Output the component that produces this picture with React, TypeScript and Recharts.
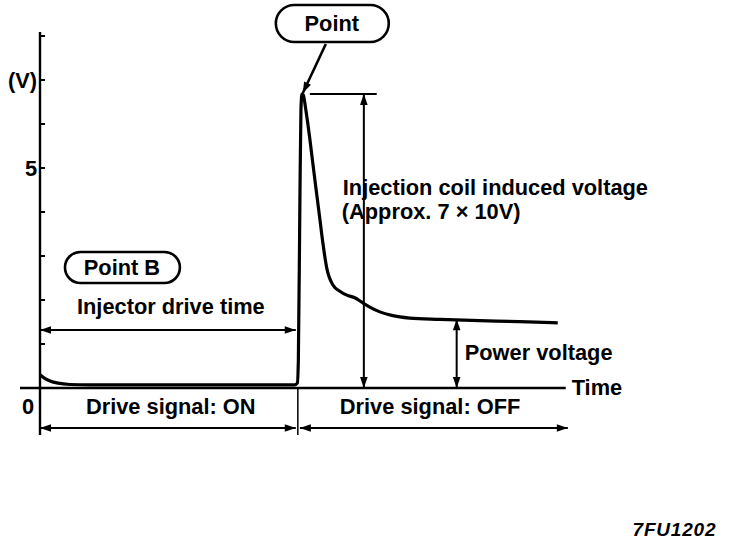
import React from 'react';
import { LineChart, Line, XAxis, YAxis, ReferenceLine, ReferenceDot, ReferenceArea } from 'recharts';

// Time (arbitrary units; drive signal switches OFF at t = 10)
const timeValues = [0, 0.155, 0.39, 0.7, 1.16, 1.94, 6.2, 9.88, 9.98, 10.02, 10.08, 10.12, 10.16, 10.21, 10.31, 10.47, 10.58, 10.7, 10.85, 10.97, 11.12, 11.36, 11.63, 11.9, 12.21, 12.48, 12.79, 13.18, 13.64, 14.34, 15.5, 17.05, 18.6, 20.08];
// Voltage (V)
const voltageValues = [0.3, 0.23, 0.16, 0.11, 0.08, 0.07, 0.07, 0.07, 0.11, 0.64, 4.27, 6.32, 6.68, 6.66, 6.32, 5.64, 5.11, 4.55, 3.86, 3.3, 2.73, 2.34, 2.2, 2.11, 2.05, 1.95, 1.84, 1.73, 1.65, 1.59, 1.56, 1.53, 1.51, 1.48];

const yTicks = [0, 1, 2, 3, 4, 5, 6, 7, 8];
const yTickLabels: Record<number, string> = { 5: '5', 7: '(V)' };

type Txt = { text: string; t: number; v: number; anchor: 'start' | 'middle' | 'end' };
const texts: Txt[] = [
  { text: 'Point', t: 11.318, v: 8.114, anchor: 'middle' },
  { text: 'Point B', t: 3.178, v: 2.568, anchor: 'middle' },
  { text: 'Injection coil induced voltage', t: 11.744, v: 4.386, anchor: 'start' },
  { text: '(Approx. 7 \u00d7 10V)', t: 11.705, v: 3.841, anchor: 'start' },
  { text: 'Injector drive time', t: 1.434, v: 1.682, anchor: 'start' },
  { text: 'Power voltage', t: 16.473, v: 0.636, anchor: 'start' },
  { text: 'Time', t: 20.62, v: -0.159, anchor: 'start' },
  { text: 'Drive signal: ON', t: 1.783, v: -0.591, anchor: 'start' },
  { text: 'Drive signal: OFF', t: 11.628, v: -0.591, anchor: 'start' },
  { text: '0', t: -0.698, v: -0.591, anchor: 'start' },
];

// Pill boxes [t1, t2, v1, v2]
const pills = [
  [9.147, 13.527, 8.705, 7.864],
  [0.969, 5.426, 3.091, 2.386],
];

type Seg = { p: [number, number, number, number]; arrows: 'none' | 'start' | 'end' | 'both'; w: number };
const segments: Seg[] = [
  { p: [-0.775, 0, 20.39, 0], arrows: 'none', w: 2.4 },         // time axis
  { p: [0, -1.068, 0, 8.09], arrows: 'none', w: 2.4 },          // voltage axis
  { p: [10.0, 0, 10.0, -1.068], arrows: 'none', w: 1.5 },       // ON/OFF boundary
  { p: [0, 1.318, 9.92, 1.318], arrows: 'both', w: 2.2 },       // injector drive time
  { p: [0, -0.909, 9.92, -0.909], arrows: 'both', w: 2.2 },     // drive ON
  { p: [10.08, -0.909, 20.47, -0.909], arrows: 'both', w: 2.2 },// drive OFF
  { p: [10.465, 6.682, 13.06, 6.682], arrows: 'none', w: 2 },   // peak level
  { p: [12.56, 6.682, 12.56, 0], arrows: 'both', w: 2 },        // induced voltage
  { p: [16.16, 1.56, 16.16, 0], arrows: 'both', w: 2 },         // power voltage
  { p: [11.085, 7.818, 10.194, 6.705], arrows: 'end', w: 2.6 }, // pointer to peak
];

const data = timeValues.map((t, i) => ({ t, v: voltageValues[i] }));
const FONT = '"Liberation Sans", Arial, sans-serif';
const FS = 21.8;

const head = (xa: number, ya: number, xb: number, yb: number) => {
  const dx = xb - xa, dy = yb - ya;
  const len = Math.hypot(dx, dy) || 1;
  const ux = dx / len, uy = dy / len;
  const L = 11, W = 3.8;
  const bx = xb - ux * L, by = yb - uy * L;
  return `${xb},${yb} ${bx - uy * W},${by + ux * W} ${bx + uy * W},${by - ux * W}`;
};

const makeShape = (arrows: Seg['arrows'], w: number) => (props: any) => {
  const { x1, y1, x2, y2 } = props;
  return (
    <g>
      <line x1={x1} y1={y1} x2={x2} y2={y2} stroke="#000" strokeWidth={w} />
      {(arrows === 'end' || arrows === 'both') && <polygon points={head(x1, y1, x2, y2)} fill="#000" />}
      {(arrows === 'start' || arrows === 'both') && <polygon points={head(x2, y2, x1, y1)} fill="#000" />}
    </g>
  );
};

const YTick = (props: any) => {
  const { x, y, payload } = props;
  const v = payload.value;
  if (v === 0) return <g />;
  const label = yTickLabels[v];
  return (
    <g>
      <line x1={x} y1={y} x2={x + 5} y2={y} stroke="#000" strokeWidth={2} />
      {label && (
        <text x={x - 3} y={y + 8} textAnchor="end" fontFamily={FONT} fontWeight="bold" fontSize={FS} fill="#000">
          {label}
        </text>
      )}
    </g>
  );
};

export default function App() {
  return (
    <div style={{ position: 'absolute', left: 0, top: 0, width: 736, height: 544, background: '#fff' }}>
      <LineChart width={736} height={544} data={data} margin={{ top: 36, right: 170, bottom: 156, left: 0 }}>
        <XAxis type="number" dataKey="t" domain={[0, 20.4]} allowDataOverflow hide />
        <YAxis
          type="number"
          domain={[0, 8]}
          allowDataOverflow
          ticks={yTicks}
          width={40}
          axisLine={false}
          tickLine={false}
          tickSize={0}
          tickMargin={0}
          interval={0}
          tick={<YTick />}
        />
        {segments.map((s, i) => (
          <ReferenceLine
            key={'s' + i}
            segment={[{ x: s.p[0], y: s.p[1] }, { x: s.p[2], y: s.p[3] }]}
            ifOverflow="visible"
            stroke="#000"
            shape={makeShape(s.arrows, s.w)}
          />
        ))}
        {pills.map((p, i) => (
          <ReferenceArea
            key={'p' + i}
            x1={p[0]}
            x2={p[1]}
            y1={p[2]}
            y2={p[3]}
            ifOverflow="visible"
            shape={(props: any) => (
              <rect
                x={props.x}
                y={props.y}
                width={props.width}
                height={props.height}
                rx={props.height / 2}
                ry={props.height / 2}
                fill="none"
                stroke="#000"
                strokeWidth={2.6}
              />
            )}
          />
        ))}
        <Line type="monotone" dataKey="v" stroke="#000" strokeWidth={3.2} dot={false} isAnimationActive={false} />
        {texts.map((tx, i) => (
          <ReferenceDot
            key={'t' + i}
            x={tx.t}
            y={tx.v}
            r={0}
            ifOverflow="visible"
            shape={(props: any) => (
              <text x={props.cx} y={props.cy} textAnchor={tx.anchor} fontFamily={FONT} fontWeight="bold" fontSize={FS} fill="#000">
                {tx.text}
              </text>
            )}
          />
        ))}
        <ReferenceDot
          x={22.98}
          y={-3.364}
          r={0}
          ifOverflow="visible"
          shape={(props: any) => (
            <text x={props.cx} y={props.cy} fontFamily={FONT} fontWeight="bold" fontStyle="italic" fontSize={19} letterSpacing={0.8} fill="#000">
              7FU1202
            </text>
          )}
        />
      </LineChart>
    </div>
  );
}
